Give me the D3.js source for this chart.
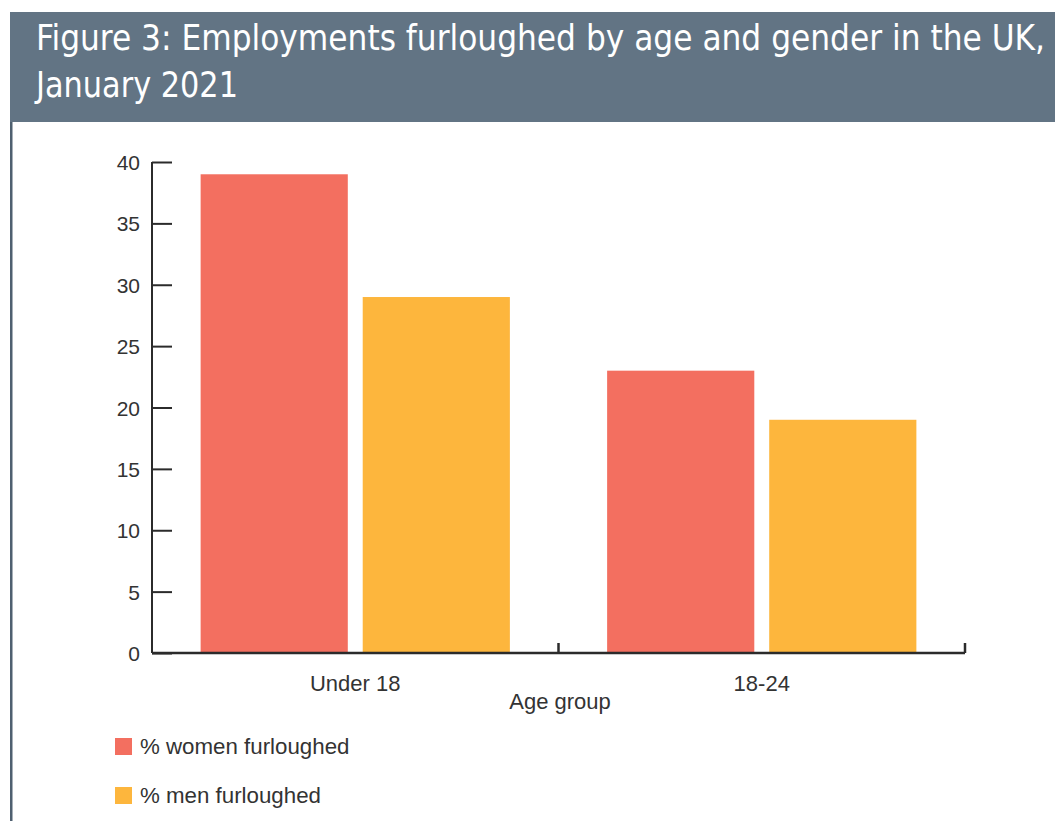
<!DOCTYPE html>
<html>
<head>
<meta charset="utf-8">
<script src="https://cdn.jsdelivr.net/npm/d3@7"></script>
<style>
 body { margin: 0; background: #fff; }
 svg { display: block; }
</style>
</head>
<body>
<svg id="chart" width="1055" height="821"></svg>
<script>
// data
const ageGroups = ["Under 18", "18-24"];
const seriesNames = ["% women furloughed", "% men furloughed"];
const women = [39, 23];
const men = [29, 19];
const yTicks = [0, 5, 10, 15, 20, 25, 30, 35, 40];
const colours = ["#f36f60", "#fdb63d"];

const svg = d3.select("#chart");
const bodyFont = "'Liberation Sans', Arial, sans-serif";

// header band + left rule
svg.append("rect").attr("x", 10).attr("y", 12).attr("width", 1045).attr("height", 110).attr("fill", "#627484");
svg.append("rect").attr("x", 10).attr("y", 122).attr("width", 2.5).attr("height", 699).attr("fill", "#4f6070");

const titleLines = ["Figure 3: Employments furloughed by age and gender in the UK,", "January 2021"];
const titleWidths = [1009, 202];
svg.selectAll("text.title").data(titleLines).enter().append("text")
 .attr("class", "title")
 .attr("x", 36)
 .attr("y", (d, i) => 50 + i * 47)
 .attr("fill", "#fff")
 .attr("font-family", "'Liberation Sans Narrow', 'DejaVu Sans Condensed', sans-serif")
 .attr("font-size", 35)
 .attr("textLength", (d, i) => titleWidths[i])
 .attr("lengthAdjust", "spacingAndGlyphs")
 .text(d => d);

// plot area
const plotL = 152, plotR = 965, plotT = 162, plotB = 653;
const y = d3.scaleLinear().domain([0, 40]).range([plotB, plotT]);
const x0 = d3.scaleBand().domain(ageGroups).range([plotL, plotR]).padding(0);
const x1 = d3.scaleBand().domain(seriesNames).range([0, x0.bandwidth()]).paddingInner(0.092).paddingOuter(0.3);

const rows = ageGroups.map((g, i) => ({ group: g, vals: [women[i], men[i]] }));

const g = svg.append("g");
g.selectAll("g.grp").data(rows).enter().append("g")
 .attr("transform", d => "translate(" + x0(d.group) + ",0)")
 .selectAll("rect").data(d => d.vals.map((v, k) => ({ name: seriesNames[k], v: v, k: k }))).enter().append("rect")
 .attr("x", d => x1(d.name))
 .attr("width", x1.bandwidth())
 .attr("y", d => y(d.v))
 .attr("height", d => y(0) - y(d.v))
 .attr("fill", d => colours[d.k]);

// y axis, ticks pointing inward
const yAxis = d3.axisRight(y).tickValues(yTicks).tickSize(20).tickFormat("");
const ya = svg.append("g").attr("transform", "translate(" + plotL + ",0)").call(yAxis);
ya.select(".domain").attr("d", "M0," + plotT + "V" + plotB);
ya.selectAll("path, line").attr("stroke", "#2b2b2b").attr("stroke-width", 2);
svg.selectAll("text.ytick").data(yTicks).enter().append("text")
 .attr("class", "ytick")
 .attr("x", 140)
 .attr("y", d => y(d) + 8)
 .attr("text-anchor", "end")
 .attr("font-family", bodyFont)
 .attr("font-size", 21)
 .attr("fill", "#333")
 .text(d => d);

// x axis with boundary ticks
const xa = svg.append("g").attr("transform", "translate(0," + plotB + ")");
xa.append("line").attr("x1", plotL).attr("x2", plotR).attr("stroke", "#2b2b2b").attr("stroke-width", 2.5);
xa.selectAll("line.bt").data(ageGroups).enter().append("line")
 .attr("class", "bt")
 .attr("x1", d => x0(d) + x0.bandwidth()).attr("x2", d => x0(d) + x0.bandwidth())
 .attr("y1", 0).attr("y2", -10)
 .attr("stroke", "#2b2b2b").attr("stroke-width", 2.5);
xa.selectAll("text").data(ageGroups).enter().append("text")
 .attr("x", d => x0(d) + x0.bandwidth() / 2)
 .attr("y", 38)
 .attr("text-anchor", "middle")
 .attr("font-family", bodyFont)
 .attr("font-size", 22)
 .attr("fill", "#333")
 .text(d => d);

svg.append("text")
 .attr("x", 560).attr("y", 709)
 .attr("text-anchor", "middle")
 .attr("font-family", bodyFont)
 .attr("font-size", 22)
 .attr("fill", "#333")
 .text("Age group");

// legend
const leg = svg.selectAll("g.leg").data(seriesNames).enter().append("g")
 .attr("class", "leg")
 .attr("transform", (d, i) => "translate(115," + (738 + i * 49) + ")");
leg.append("rect").attr("width", 17).attr("height", 17).attr("fill", (d, i) => colours[i]);
leg.append("text")
 .attr("x", 25).attr("y", 16)
 .attr("font-family", bodyFont)
 .attr("font-size", 22.3)
 .attr("fill", "#333")
 .text(d => d);
</script>
</body>
</html>
